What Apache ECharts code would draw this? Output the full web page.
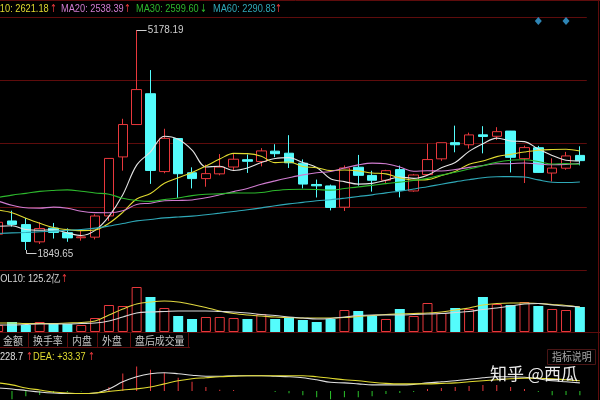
<!DOCTYPE html>
<html><head><meta charset="utf-8">
<script src="https://cdn.jsdelivr.net/npm/echarts@6/dist/echarts.min.js"></script>
<style>html,body{margin:0;padding:0;background:#000;overflow:hidden;width:600px;height:400px;position:relative}
#c{position:absolute;left:-9px;top:0;width:609px;height:400px}</style>
</head><body><div id="c"></div>
<script>
// ---- data (quarterly candles) ----
const quarters = ['2012Q4','2013Q1','2013Q2','2013Q3','2013Q4','2014Q1','2014Q2','2014Q3','2014Q4','2015Q1','2015Q2','2015Q3','2015Q4','2016Q1','2016Q2','2016Q3','2016Q4','2017Q1','2017Q2','2017Q3','2017Q4','2018Q1','2018Q2','2018Q3','2018Q4','2019Q1','2019Q2','2019Q3','2019Q4','2020Q1','2020Q2','2020Q3','2020Q4','2021Q1','2021Q2','2021Q3','2021Q4','2022Q1','2022Q2','2022Q3','2022Q4','2023Q1','2023Q2'];
const opens  = [2089,2289,2234,1973,2180,2112,2035,2044,2365,3258,3748,4214,3036,3536,3018,2930,3002,3105,3216,3189,3345,3314,3163,2841,2819,2497,3102,2978,2904,3066,2743,2991,3229,3474,3442,3592,3570,3649,3232,3397,3014,3087,3281];
const highs  = [2276,2444,2334,2270,2259,2177,2146,2391,3239,3835,5178.19,4572,3684,3539,3100,3141,3301,3301,3295,3391,3450,3587,3220,2915,2839,3129,3288,3048,3063,3127,3000,3458,3474,3731,3625,3723,3708,3651,3429,3425,3236,3334,3418];
const lows   = [1949,2203,1849.65,1941,2023,1974,1991,2010,2290,3050,3747,2850,3011,2638,2781,2807,2980,3044,3016,3115,3254,3091,2782,2644,2449,2440,2822,2733,2857,2646,2731,2984,3199,3328,3384,3312,3515,3023,2863,3021,2886,3063,3131];
const closes = [2269,2237,1979,2175,2116,2033,2048,2364,3235,3748,4277,3053,3539,3004,2930,3005,3104,3223,3192,3349,3307,3169,2847,2821,2494,3091,2979,2905,3050,2750,2985,3218,3473,3442,3591,3568,3640,3252,3399,3024,3089,3273,3202];
const ma5  = [2208,2216,2159,2149,2155,2108,2070,2147,2359,2686,3134,3335,3570,3524,3361,3106,3116,3053,3091,3175,3235,3248,3173,3099,2928,2884,2846,2858,2904,2955,2934,2982,3095,3174,3342,3458,3543,3499,3490,3377,3281,3207,3197];
const ma10 = [2456,2414,2331,2255,2191,2158,2143,2153,2254,2420,2621.18,2703,2859,2942,3023,3120,3226,3312,3308,3268,3171,3182,3113,3095,3051,3060,3047,3015,3001,2941,2909,2914,2977,3039,3148,3196,3262,3297,3332,3359,3370,3375,3348];
const ma20 = [2589,2527,2489,2483,2498,2481,2435,2415,2413,2444,2538.39,2558,2595,2599,2607,2639,2685,2733,2781,2844,2896,2943,2986,3018,3037,3090,3137,3164,3154,3105,3040,3048,3045,3067,3100,3128,3155,3156,3167,3150,3139,3145,3162];
const ma30 = [2644,2680,2707,2736,2751,2760,2739,2712,2693,2632,2599.60,2586,2612,2636,2673,2694,2699,2714,2711,2719,2749,2766,2768,2764,2755,2779,2805,2827,2854,2876,2900,2933,2983,3025,3074,3125,3178,3208,3214,3189,3150,3157,3146];
const ma60 = [2100,2108,2115,2125,2135,2148,2160,2180,2212,2250,2290.83,2311,2335,2350,2362,2383,2407,2433,2458,2487,2520,2547,2570,2594,2610,2633,2659,2684,2714,2740,2772,2806,2845,2881,2913,2943,2959,2960,2953,2911,2875,2871,2879];
// volume (亿) and its moving averages
const volumes = [56,80,56,80,64,64,56,112,216,208,360,280,192,128,104,120,120,112,104,144,104,120,96,80,104,176,168,128,104,184,128,232,152,192,184,280,224,216,240,208,184,176,200];
const volMa5  = [72,72,68,68,68,72,76,88,136,184,224,240,248,240,220,196,168,148,136,128,120,116,112,112,112,116,124,132,140,144,148,152,160,176,192,216,228,232,232,228,220,212,200];
const volMa10 = [56,56,60,64,64,64,68,72,88,120,152,160,164,168,168,168,164,160,152,140,132,120,112,104,108,120,132,136,136,136,140,144,148,156,164,180,192,208,224,228,216,208,200];
// MACD
const dif  = [49,33,8,-16,-33,-41,-41,-33,33,147,228.7,277,293,277,253,236,236,245,245,245,236,228,212,179,139,130,114,98,98,98,106,130,147,163,187,212,228,228,220,196,163,147,130];
const dea  = [130,98,49,16,-16,-33,-41,-33,-8,16,33.37,65,114,163,196,212,228,236,245,245,245,245,245,228,204,179,163,139,122,114,114,114,122,130,147,163,179,196,204,204,196,179,163];
const macdBars = [-160,-130,-82,-64,-33,-16,-8,0,65,280,391,342,293,212,147,65,20,16,0,0,-15,-34,-66,-98,-130,-98,-98,-82,-49,-33,-16,32,50,65,80,98,98,65,32,-16,-66,-64,-66];
const eventIdx = [39,41];
// legend texts
const maLegend = [['MA10: 2621.18','↑'],['MA20: 2538.39','↑'],['MA30: 2599.60','↓'],['MA60: 2290.83','↑']];
const tabs = ['金额','换手率','内盘','外盘','盘后成交量'];

// ---- styles ----
const RED='#E8383C', CYAN='#54FCFC', GREEN_BAR='#2BC42B', GRIDC='#5e0c0c';
const C_MA5='#E4E4E4', C_MA10='#E0DA30', C_MA20='#D07CD0', C_MA30='#2DB82D', C_MA60='#2FA9B8';
const FONT='"Liberation Sans", Arial, sans-serif';
const CJK='"Noto Sans CJK SC", sans-serif';
const OX = 9; // canvas is shifted 9px left of the page

const chart = echarts.init(document.getElementById('c'));
const up = i => closes[i] >= opens[i];
const candleData = quarters.map((q,i)=>[opens[i],closes[i],lows[i],highs[i]]);
const volData = volumes.map((v,i)=>({value:v,itemStyle: up(i)?{color:'#000',borderColor:RED,borderWidth:1}:{color:CYAN,borderWidth:0}}));
const macdData = macdBars.map(v=>({value:v,itemStyle:{color: v>=0?RED:GREEN_BAR}}));
const gx = {left:0.2, width:595.6};
const xAx = gi => ({type:'category',gridIndex:gi,data:quarters,boundaryGap:true,axisLine:{show:false},axisTick:{show:false},axisLabel:{show:false},splitLine:{show:false}});
const hid = {axisLine:{show:false},axisTick:{show:false},axisLabel:{show:false}};
const line = (data,color,xi) => ({type:'line',data,xAxisIndex:xi,yAxisIndex:xi,symbol:'none',smooth:0.35,silent:true,lineStyle:{color,width:1.1},z:3});

const yTop = 5375, yBot = 1547;
chart.setOption({
  backgroundColor:'#000', animation:false,
  grid:[{...gx,top:17,height:253},{...gx,top:280,height:52},{...gx,top:362,height:38}],
  xAxis:[xAx(0),xAx(1),xAx(2)],
  yAxis:[
    {gridIndex:0,type:'value',min:yBot,max:yTop,interval:957,...hid,splitLine:{show:true,lineStyle:{color:GRIDC,width:1}}},
    {gridIndex:1,type:'value',min:0,max:416,...hid,splitLine:{show:false}},
    {gridIndex:2,type:'value',min:-144,max:464,...hid,splitLine:{show:false}}
  ],
  series:[
    {type:'candlestick',xAxisIndex:0,yAxisIndex:0,data:candleData,barWidth:10,silent:true,
     itemStyle:{color:'#000',color0:CYAN,borderColor:RED,borderColor0:CYAN,borderWidth:1}},
    line(ma5,C_MA5,0), line(ma10,C_MA10,0), line(ma20,C_MA20,0), line(ma30,C_MA30,0), line(ma60,C_MA60,0),
    {type:'scatter',xAxisIndex:0,yAxisIndex:0,data:eventIdx.map(i=>[i,yTop-(yTop-yBot)*0.016]),symbol:'diamond',symbolSize:[7,8],itemStyle:{color:'#3AA6E2'},silent:true},
    {type:'bar',xAxisIndex:1,yAxisIndex:1,data:volData,barWidth:10,silent:true},
    line(volMa5,'#E0D840',1), line(volMa10,'#D8D8D8',1),
    {type:'bar',xAxisIndex:2,yAxisIndex:2,data:macdData,barWidth:1,silent:true},
    line(dif,'#E0E0E0',2), line(dea,'#E0DA30',2)
  ]
});

// ---- annotations & texts (page coordinates, shifted by OX into canvas) ----
const g = [];
const T = (x,y,text,fill,size,sx,font) => g.push({type:'text',x:x+OX,y,scaleX:sx||1,silent:true,z:10,
  style:{text,fill,fontSize:size,fontFamily:font||FONT,verticalAlign:'middle',align:'left'}});
const L = (x1,y1,x2,y2,stroke) => g.push({type:'line',silent:true,z:9,shape:{x1:x1+OX,y1,x2:x2+OX,y2},style:{stroke,lineWidth:1}});

// panel borders
L(-9,0.5,600,0.5,GRIDC); L(598.5,0,598.5,400,GRIDC);
L(-9,332.5,600,332.5,GRIDC); L(-9,347.5,190,347.5,GRIDC);
[28,67,97,130,188].forEach(x=>L(x+0.5,333,x+0.5,348,GRIDC));
// top MA legend
const legCols=[C_MA10,C_MA20,C_MA30,C_MA60];
const legX=[-14,61,136,213], arrX=[50,124,200,275];
maLegend.forEach((m,i)=>{T(legX[i],9,m[0],legCols[i],11,0.84); T(arrX[i],9,m[1],m[1]==='↑'?RED:'#2DB82D',11,0.75,'"DejaVu Sans", sans-serif');});
// vol legend
T(-6,279,'VOL10: 125.2亿','#D6D6D6',11,0.84); T(61,279,'↑',RED,11,0.75,'"DejaVu Sans", sans-serif');
// tabs
const tabX=[3,33,72,102,135];
tabs.forEach((t,i)=>T(tabX[i],341,t,'#C4C4C4',11,0.9,CJK));
// macd legend
T(-25.5,357,'DIF: +228.7','#E0E0E0',11,0.84); T(26,357,'↑',RED,11,0.75,'"DejaVu Sans", sans-serif');
T(33,357,'DEA: +33.37',C_MA10,11,0.84); T(88,357,'↑',RED,11,0.75,'"DejaVu Sans", sans-serif');
// 指标说明 button
g.push({type:'rect',shape:{x:547.5+OX,y:349.5,width:48,height:15},style:{fill:'#000',stroke:'#4a1515',lineWidth:1},silent:true,z:9});
T(552,357,'指标说明','#A8A8A8',11,0.9,CJK);
// watermark
T(490,374,'知乎 @西瓜','rgba(255,255,255,0.92)',17,1,CJK);
// high / low labels (pixel positions from the axis scales, converted to page coords)
const hi = chart.convertToPixel({gridIndex:0},[10,highs[10]]);
const hx = hi[0]-OX, hy = Math.round(hi[1])+0.5;
L(hx,hy,hx+10,hy,'#CFCFCF');
T(hx+11,hi[1],String(highs[10]),'#CFCFCF',11,0.9);
const lo = chart.convertToPixel({gridIndex:0},[2,lows[2]]);
const lx = Math.round(lo[0]-OX)+0.5, ly = Math.round(lo[1])+3.5;
L(lx,lo[1],lx,ly,'#CFCFCF');
L(lx,ly,lx+10,ly,'#CFCFCF');
T(lx+11,ly,String(lows[2]),'#CFCFCF',11,0.9);
chart.setOption({graphic:g});
</script></body></html>
